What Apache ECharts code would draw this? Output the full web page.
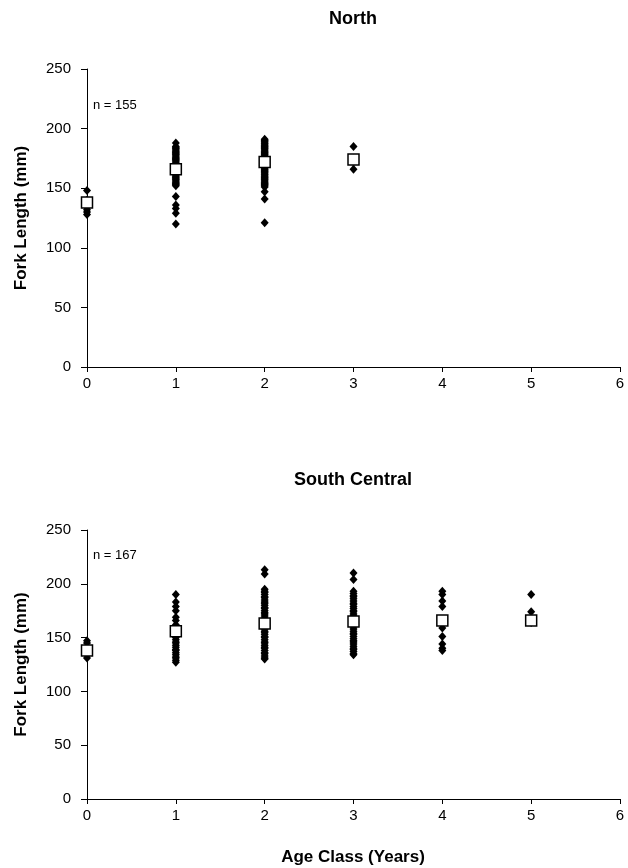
<!DOCTYPE html>
<html><head><meta charset="utf-8">
<script src="https://cdn.jsdelivr.net/npm/echarts@6/dist/echarts.min.js"></script>
<style>html,body{margin:0;padding:0;background:#fff}#c{width:628px;height:868px}</style>
</head><body><div id="c"></div>
<script>
// ---- data ----
const xTicks = [0, 1, 2, 3, 4, 5, 6];
const yTicks = [0, 50, 100, 150, 200, 250];

const northAges = [0, 1, 2, 3];
const northAge0 = [148, 140, 137, 134, 132, 130, 128];
const northAge1 = [188, 185, 184, 183, 182, 181, 180, 179, 178, 177, 176, 175, 174, 173, 172, 171, 170, 169, 168, 167, 166, 165, 164, 163, 162, 161, 160, 159, 158, 157, 156, 155, 154, 153, 152, 143, 136, 133, 129, 120];
const northAge2 = [191, 190, 189, 188, 187, 186, 185, 184, 183, 182, 181, 180, 179, 178, 177, 176, 175, 174, 173, 172, 171, 170, 169, 168, 167, 166, 165, 164, 163, 162, 161, 160, 159, 158, 157, 156, 155, 154, 153, 152, 151, 147, 141, 121];
const northAge3 = [185, 175, 172, 166];
const northMeans = [138, 166, 172, 174];

const southAges = [0, 1, 2, 3, 4, 5];
const southAge0 = [147, 145, 141, 138, 134, 131];
const southAge1 = [190, 183, 179, 175, 169, 166, 162, 160, 159, 157, 155, 153, 151, 150, 148, 146, 145, 143, 141, 139, 138, 136, 134, 132, 131, 129, 127];
const southAge2 = [213, 209, 195, 193, 192, 190, 188, 187, 185, 183, 182, 180, 178, 177, 175, 173, 172, 170, 168, 166, 165, 163, 161, 160, 158, 156, 155, 153, 151, 150, 148, 146, 145, 143, 141, 140, 138, 136, 135, 133, 131, 130];
const southAge3 = [210, 204, 193, 191, 189, 188, 186, 184, 182, 181, 179, 177, 175, 174, 172, 170, 168, 167, 165, 163, 161, 160, 158, 156, 154, 153, 151, 149, 147, 146, 144, 142, 140, 139, 137, 135, 134];
const southAge4 = [193, 190, 184, 179, 166, 159, 151, 144, 140, 138];
const southAge5 = [190, 174, 167, 164];
const southMeans = [138, 156, 163, 165, 166, 166];

const northTitle = 'North';
const southTitle = 'South Central';
const northN = 'n = 155';
const southN = 'n = 167';
const yName = 'Fork Length (mm)';
const xName = 'Age Class (Years)';

// ---- build ----
function pairs(ages, groups) {
  const out = [];
  groups.forEach((g, i) => g.forEach(v => out.push([ages[i], v])));
  return out;
}
function meanPairs(ages, means) { return means.map((v, i) => [ages[i], v]); }

const FONT = '"Liberation Sans", Arial, sans-serif';
function xAxis(gi) {
  return {
    gridIndex: gi, type: 'value', min: xTicks[0], max: xTicks[xTicks.length - 1], interval: 1,
    axisLine: { show: true, onZero: false, lineStyle: { color: '#000', width: 1 } },
    axisTick: { show: true, length: 5, lineStyle: { color: '#000' } },
    axisLabel: { color: '#000', fontSize: 15, fontFamily: FONT, margin: 9 },
    splitLine: { show: false }
  };
}
function yAxis(gi) {
  return {
    gridIndex: gi, type: 'value', min: yTicks[0], max: yTicks[yTicks.length - 1], interval: 50,
    name: yName, nameLocation: 'middle', nameGap: 57,
    nameTextStyle: { color: '#000', fontSize: 17, fontWeight: 'bold', fontFamily: FONT },
    axisLine: { show: true, lineStyle: { color: '#000', width: 1 } },
    axisTick: { show: true, length: 6, lineStyle: { color: '#000' } },
    axisLabel: { color: '#000', fontSize: 15, fontFamily: FONT, margin: 16 },
    splitLine: { show: false }
  };
}
const dot = { symbol: 'diamond', symbolSize: [8, 9], itemStyle: { color: '#000', opacity: 1 }, emphasis: { disabled: true } };
const sq = { symbol: 'rect', symbolSize: 11, itemStyle: { color: '#fff', borderColor: '#000', borderWidth: 1.5, opacity: 1 }, emphasis: { disabled: true }, z: 5 };

const chart = echarts.init(document.getElementById('c'), null, { renderer: 'canvas' });
chart.setOption({
  animation: false,
  backgroundColor: '#fff',
  grid: [
    { left: 87, right: 8, top: 69, height: 298 },
    { left: 87, right: 8, top: 530, height: 269 }
  ],
  xAxis: [xAxis(0), xAxis(1)],
  yAxis: [yAxis(0), yAxis(1)],
  series: [
    Object.assign({ type: 'scatter', xAxisIndex: 0, yAxisIndex: 0, data: pairs(northAges, [northAge0, northAge1, northAge2, northAge3]) }, dot),
    Object.assign({ type: 'scatter', xAxisIndex: 0, yAxisIndex: 0, data: meanPairs(northAges, northMeans) }, sq),
    Object.assign({ type: 'scatter', xAxisIndex: 1, yAxisIndex: 1, data: pairs(southAges, [southAge0, southAge1, southAge2, southAge3, southAge4, southAge5]) }, dot),
    Object.assign({ type: 'scatter', xAxisIndex: 1, yAxisIndex: 1, data: meanPairs(southAges, southMeans) }, sq)
  ],
  graphic: [
    { type: 'text', x: 353, y: 19, style: { text: northTitle, font: 'bold 18px ' + FONT, fill: '#000', align: 'center', verticalAlign: 'middle' } },
    { type: 'text', x: 353, y: 480, style: { text: southTitle, font: 'bold 18px ' + FONT, fill: '#000', align: 'center', verticalAlign: 'middle' } },
    { type: 'text', x: 353, y: 857, style: { text: xName, font: 'bold 17px ' + FONT, fill: '#000', align: 'center', verticalAlign: 'middle' } },
    { type: 'text', x: 93, y: 105, style: { text: northN, font: '13px ' + FONT, fill: '#000', align: 'left', verticalAlign: 'middle' } },
    { type: 'text', x: 93, y: 555, style: { text: southN, font: '13px ' + FONT, fill: '#000', align: 'left', verticalAlign: 'middle' } }
  ]
});
</script></body></html>
